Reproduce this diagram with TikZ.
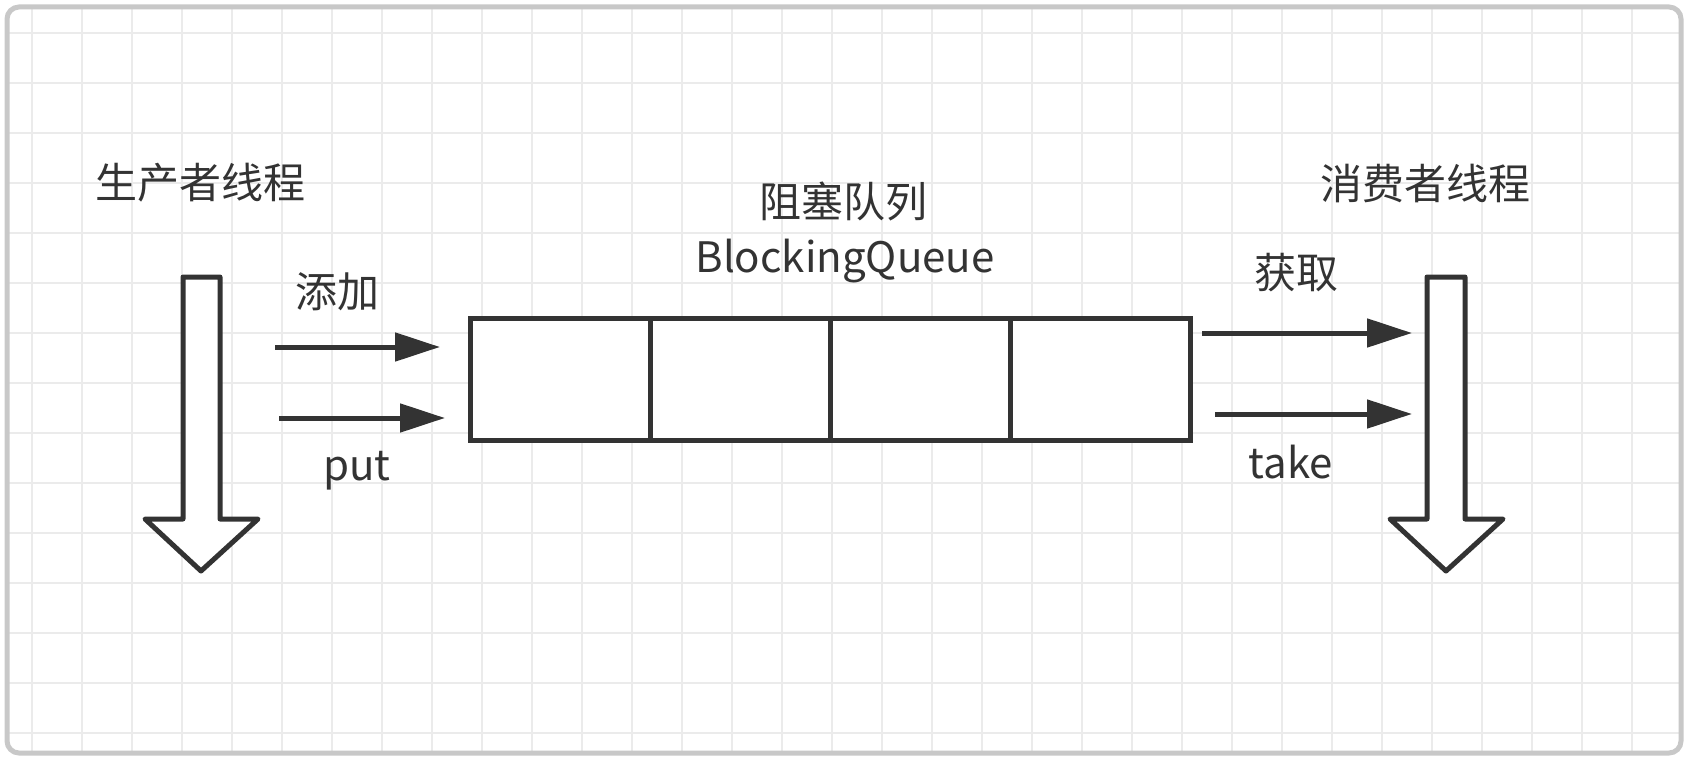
\documentclass[tikz,border=0pt]{standalone}
\usepackage{fontspec}
\setmainfont{Noto Sans CJK SC}
\usepackage{tikz}
\usetikzlibrary{positioning, arrows.meta}

\definecolor{ink}{HTML}{333333}
\definecolor{gridgray}{HTML}{EBEBEB}
\definecolor{framegray}{HTML}{C8C8C8}

\begin{document}
\begin{tikzpicture}[
  x=1pt, y=-1pt,
  label/.style={text=ink, inner sep=0pt, font=\fontsize{42}{48}\selectfont},
  cell/.style={rectangle, draw=ink, line width=5pt, fill=white, minimum width=180pt, minimum height=122pt, inner sep=0pt, outer sep=0pt},
  thinarrow/.style={-{Triangle[length=45pt, width=28pt]}, draw=ink, line width=5pt},
  bigarrow/.style={draw=ink, fill=white, line width=5pt, line join=round}
]
\useasboundingbox (0,0) rectangle (1688,762);

% background grid and frame
\begin{scope}
  \clip[rounded corners=12pt] (7,7) rectangle (1681,753);
  \fill[white] (0,0) rectangle (1688,762);
  \foreach \xx in {32,82,...,1682} \draw[gridgray, line width=1.5pt] (\xx,0) -- (\xx,762);
  \foreach \yy in {33,83,...,753} \draw[gridgray, line width=1.5pt] (0,\yy) -- (1688,\yy);
\end{scope}
\draw[framegray, line width=5pt, rounded corners=12pt] (7,7) rectangle (1681,753);

% titles
\node[label] (prod) at (200,183) {生产者线程};
\node[label] (cons) at (1425,183) {消费者线程};
\node[label] (qname) at (843,201) {阻塞队列};
\node[label, anchor=base] (qclass) at (845,272) {BlockingQueue};

% queue
\node[cell] (q1) at (560,379) {};
\node[cell, right=0pt of q1] (q2) {};
\node[cell, right=0pt of q2] (q3) {};
\node[cell, right=0pt of q3] (q4) {};

% producer / consumer threads
\draw[bigarrow] (183,277) -- (220,277) -- (220,519) -- (258,519) -- (201,571)
  -- (145,519) -- (183,519) -- cycle;
\draw[bigarrow] (1427,277) -- (1465,277) -- (1465,519) -- (1503,519) -- (1446,571)
  -- (1390,519) -- (1427,519) -- cycle;

% put side
\coordinate (addS) at (275,347);
\coordinate (addE) at (440,347);
\coordinate (putS) at (279,418);
\coordinate (putE) at (445,418);
\draw[thinarrow] (addS) -- (addE);
\draw[thinarrow] (putS) -- (putE);
\node[label] (add) at (337,292) {添加};
\node[label, anchor=base] (put) at (357,480) {put};

% take side
\coordinate (getS) at (1202,333);
\coordinate (getE) at (1412,333);
\coordinate (takeS) at (1215,414);
\coordinate (takeE) at (1412,414);
\draw[thinarrow] (getS) -- (getE);
\draw[thinarrow] (takeS) -- (takeE);
\node[label] (get) at (1296,273) {获取};
\node[label, anchor=base] (take) at (1291,478) {take};

\end{tikzpicture}
\end{document}
